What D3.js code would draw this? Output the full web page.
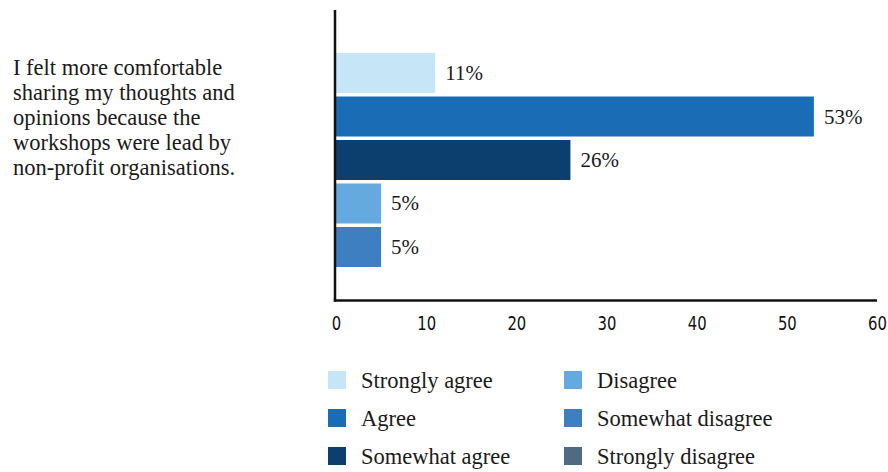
<!DOCTYPE html>
<html><head><meta charset="utf-8">
<script src="https://cdn.jsdelivr.net/npm/d3@7/dist/d3.min.js"></script>
<style>body{margin:0;background:#fff;} svg{display:block;}</style>
</head><body>
<svg id="c" width="888" height="472"></svg>
<script>
const categories = ["Strongly agree","Agree","Somewhat agree","Disagree","Somewhat disagree","Strongly disagree"];
const values = [11, 53, 26, 5, 5, null];
const colors = ["#c6e6f8","#1a6db5","#0d3f6e","#64aadf","#3e7fc1","#4f6a82"];
const xTicks = [0,10,20,30,40,50,60];
const questionLines = ["I felt more comfortable","sharing my thoughts and","opinions because the","workshops were lead by","non-profit organisations."];

const svg = d3.select("#c");
const serif = "Liberation Serif, DejaVu Serif, serif";
const data = categories.map((c,i)=>({cat:c, v:values[i], color:colors[i]}));
const plotted = data.filter(d=>d.v!=null);

const x = d3.scaleLinear().domain([0,60]).range([336,877]);
const y = d3.scaleBand().domain(plotted.map(d=>d.cat)).range([53,267]).paddingInner(0.08).paddingOuter(0);

svg.append("g").selectAll("rect").data(plotted).join("rect")
  .attr("x", x(0)).attr("y", d=>y(d.cat))
  .attr("width", d=>x(d.v)-x(0)).attr("height", y.bandwidth())
  .attr("fill", d=>d.color);

svg.append("g").selectAll("text").data(plotted).join("text")
  .attr("x", d=>x(d.v)+10).attr("y", d=>y(d.cat)+y.bandwidth()/2+7)
  .style("font-family", serif).style("font-size", "21px").attr("fill","#1a1a1a")
  .text(d=>d.v+"%");

// axes
svg.append("line").attr("x1",335).attr("x2",335).attr("y1",10).attr("y2",301.5)
  .attr("stroke","#111").attr("stroke-width",2.5);
const xa = d3.axisBottom(x).tickValues(xTicks).tickSize(0).tickPadding(0);
const gx = svg.append("g").attr("transform","translate(0,300.5)").call(xa);
gx.attr("font-family",null).attr("font-size",null);
gx.select(".domain").attr("d", `M333.8,0H877`).attr("stroke","#111").attr("stroke-width",2.5);
gx.selectAll(".tick text").attr("dy",null).attr("y",0)
  .attr("transform","translate(0,29) scale(0.78,1)")
  .style("font-family","DejaVu Sans, sans-serif")
  .style("font-size","19px").attr("fill","#111");

// question text
svg.append("g").selectAll("text").data(questionLines).join("text")
  .attr("x",13).attr("y",(d,i)=>75+i*25)
  .style("font-family",serif).style("font-size","22.5px").attr("fill","#1a1a1a")
  .text(d=>d);

// legend
const lg = svg.append("g").selectAll("g").data(data).join("g")
  .attr("transform",(d,i)=>`translate(${i<3?328:564},${371+(i%3)*38})`);
lg.append("rect").attr("width",18).attr("height",18).attr("fill",d=>d.color);
lg.append("text").attr("x",33).attr("y",17).style("font-family",serif)
  .style("font-size","22.5px").attr("fill","#1a1a1a").text(d=>d.cat);
</script>
</body></html>
